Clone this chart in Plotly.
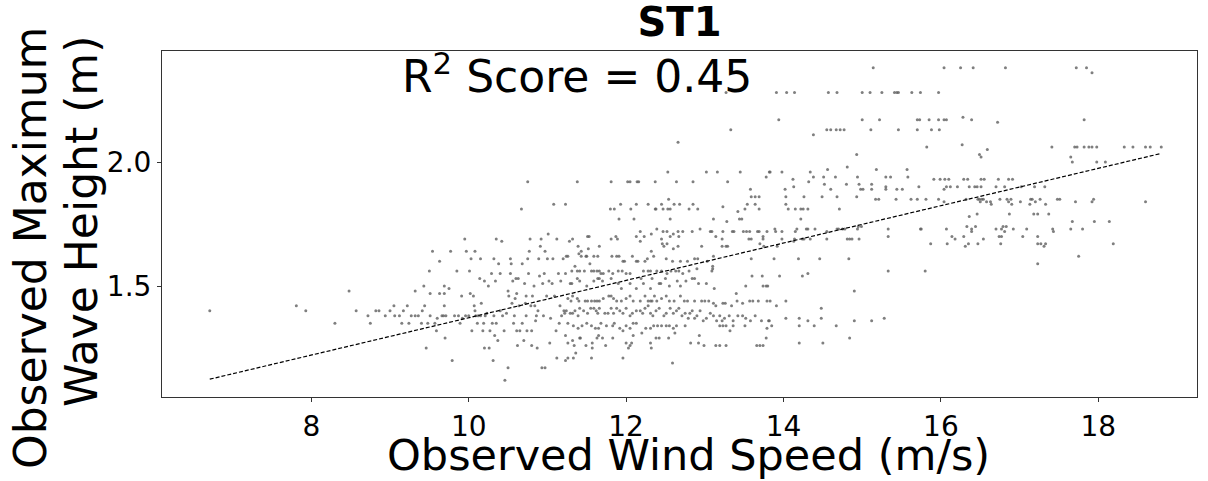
import plotly.graph_objects as go

obs_west = [
    (6.71, 1.40), (7.81, 1.42), (7.93, 1.40), (8.30, 1.35), (8.48, 1.48), (8.57, 1.40),
    (8.72, 1.38), (8.75, 1.35), (8.82, 1.40), (8.86, 1.40), (8.94, 1.38), (9.00, 1.40),
    (9.05, 1.42), (9.06, 1.38), (9.12, 1.38), (9.15, 1.35), (9.17, 1.40), (9.22, 1.42),
    (9.24, 1.35), (9.27, 1.38), (9.32, 1.38), (9.32, 1.48), (9.36, 1.38), (9.40, 1.35),
    (9.41, 1.40), (9.43, 1.50), (9.44, 1.42), (9.46, 1.25), (9.48, 1.35), (9.50, 1.56),
    (9.51, 1.38), (9.51, 1.47), (9.54, 1.64), (9.57, 1.35), (9.59, 1.32), (9.60, 1.37),
    (9.63, 1.60), (9.63, 1.47), (9.66, 1.38), (9.68, 1.38), (9.69, 1.50), (9.69, 1.47),
    (9.69, 1.42), (9.70, 1.29), (9.71, 1.38), (9.75, 1.49), (9.77, 1.64), (9.79, 1.20),
    (9.82, 1.38), (9.85, 1.56), (9.87, 1.38), (9.89, 1.35), (9.91, 1.46), (9.92, 1.37),
    (9.95, 1.69), (9.96, 1.38), (9.97, 1.64), (10.00, 1.38), (10.01, 1.56), (10.02, 1.47),
    (10.03, 1.61), (10.04, 1.32), (10.06, 1.46), (10.07, 1.42), (10.08, 1.64), (10.08, 1.40),
    (10.09, 1.38), (10.11, 1.35), (10.12, 1.38), (10.14, 1.53), (10.15, 1.38), (10.15, 1.61),
    (10.16, 1.43), (10.18, 1.32), (10.19, 1.35), (10.20, 1.25), (10.20, 1.52), (10.21, 1.38),
    (10.23, 1.39), (10.25, 1.50), (10.26, 1.25), (10.27, 1.32), (10.29, 1.55), (10.30, 1.35),
    (10.31, 1.20), (10.32, 1.61), (10.32, 1.38), (10.33, 1.30), (10.34, 1.52), (10.35, 1.69),
    (10.35, 1.35), (10.37, 1.28), (10.38, 1.59), (10.40, 1.40), (10.40, 1.55), (10.42, 1.68),
    (10.43, 1.38), (10.45, 1.32), (10.46, 1.12), (10.48, 1.39), (10.50, 1.48), (10.50, 1.17),
    (10.51, 1.46), (10.53, 1.55), (10.53, 1.61), (10.54, 1.59), (10.55, 1.43), (10.56, 1.52),
    (10.57, 1.35), (10.58, 1.38), (10.59, 1.45), (10.60, 1.53), (10.61, 1.32), (10.61, 1.47),
    (10.62, 1.26), (10.63, 1.53), (10.64, 1.42), (10.65, 1.32), (10.67, 1.81), (10.68, 1.59),
    (10.68, 1.35), (10.70, 1.28), (10.71, 1.51), (10.72, 1.43), (10.73, 1.46), (10.73, 1.38),
    (10.74, 1.32), (10.75, 1.92), (10.75, 1.61), (10.76, 1.55), (10.77, 1.64), (10.78, 1.69),
    (10.79, 1.42), (10.80, 1.26), (10.80, 1.32), (10.81, 1.46), (10.83, 1.50), (10.84, 1.42),
    (10.85, 1.36), (10.86, 1.38), (10.87, 1.25), (10.88, 1.40), (10.89, 1.61), (10.90, 1.54),
    (10.91, 1.66), (10.92, 1.69), (10.93, 1.17), (10.94, 1.51), (10.95, 1.38), (10.96, 1.55),
    (10.97, 1.64), (10.97, 1.17), (10.99, 1.46), (11.00, 1.61), (11.01, 1.71), (11.02, 1.52),
    (11.03, 1.27), (11.04, 1.37), (11.06, 1.51), (11.07, 1.61), (11.08, 1.83), (11.09, 1.46),
    (11.11, 1.32), (11.12, 1.69), (11.12, 1.21), (11.14, 1.55), (11.15, 1.35), (11.16, 1.42),
    (11.17, 1.52), (11.18, 1.38), (11.20, 1.61), (11.21, 1.40),
]

obs_mid_high = [
    (13.33, 2.13), (12.66, 2.08), (13.27, 2.28),
    (11.38, 1.92), (11.81, 1.92), (12.02, 1.92), (12.05, 1.92), (12.14, 1.92), (12.16, 1.92),
    (12.37, 1.92), (12.64, 1.92), (12.85, 1.92), (13.29, 1.92),
    (12.53, 1.96), (13.02, 1.96), (13.16, 1.96), (13.45, 1.96), (13.82, 1.96), (13.78, 1.94),
    (13.58, 1.89), (13.59, 1.86), (13.64, 1.86), (13.69, 1.86), (12.54, 1.85),
    (11.23, 1.83), (11.80, 1.81), (11.85, 1.81), (11.93, 1.83), (12.06, 1.81), (12.13, 1.83),
    (12.28, 1.83), (12.37, 1.81), (12.38, 1.81), (12.45, 1.83), (12.47, 1.81), (12.53, 1.81),
    (12.56, 1.81), (12.61, 1.83), (12.68, 1.83), (12.80, 1.81), (12.85, 1.83), (12.91, 1.81),
    (13.23, 1.82), (13.28, 1.76), (13.42, 1.80), (13.44, 1.77), (13.47, 1.77), (13.51, 1.81),
    (13.54, 1.83), (13.64, 1.83), (13.69, 1.81), (11.91, 1.77), (12.10, 1.77), (12.56, 1.77),
    (13.11, 1.77),
    (12.18, 1.72), (12.32, 1.71), (12.39, 1.73), (12.47, 1.72), (12.52, 1.72), (12.60, 1.71),
    (12.66, 1.72), (12.72, 1.72), (12.84, 1.72), (12.94, 1.73), (13.07, 1.72), (13.09, 1.72),
    (13.23, 1.72), (13.35, 1.72), (13.37, 1.72), (13.49, 1.72), (13.53, 1.72), (13.57, 1.72),
    (13.67, 1.72), (13.69, 1.72), (13.79, 1.72),
    (11.28, 1.68), (11.32, 1.69), (11.51, 1.70), (11.53, 1.70), (11.81, 1.69), (11.87, 1.70),
    (11.89, 1.69), (12.13, 1.70), (12.18, 1.68), (12.23, 1.70), (12.45, 1.69), (12.46, 1.67),
    (12.48, 1.66), (12.52, 1.67), (12.56, 1.70), (12.60, 1.65), (12.66, 1.66), (12.67, 1.70),
    (12.96, 1.66), (13.14, 1.70), (13.22, 1.69), (13.22, 1.66), (13.27, 1.66), (13.29, 1.66),
    (13.56, 1.69), (13.59, 1.69), (13.74, 1.69), (13.74, 1.70), (13.70, 1.67), (11.40, 1.63),
    (11.39, 1.66), (11.52, 1.65), (11.66, 1.66), (11.43, 1.64),
    (11.24, 1.62), (11.26, 1.62), (11.43, 1.62), (11.49, 1.62), (11.50, 1.62), (11.59, 1.62),
    (11.64, 1.62), (11.82, 1.62), (11.88, 1.62), (11.91, 1.62), (11.98, 1.60), (11.96, 1.60),
    (12.08, 1.62), (12.13, 1.60), (12.15, 1.60), (12.24, 1.60), (12.27, 1.61), (12.32, 1.64),
    (12.35, 1.62), (12.51, 1.61), (12.59, 1.60), (12.69, 1.60), (12.78, 1.60), (12.87, 1.61),
    (12.91, 1.61), (13.03, 1.60), (13.10, 1.58), (13.11, 1.62), (13.59, 1.61), (13.75, 1.66),
]

obs_mid_low = [
    (11.23, 1.55), (11.31, 1.56), (11.35, 1.58), (11.38, 1.56), (11.41, 1.56), (11.47, 1.56),
    (11.54, 1.59), (11.56, 1.56), (11.59, 1.56), (11.63, 1.56), (11.66, 1.56), (11.68, 1.55),
    (11.71, 1.55), (11.78, 1.56), (11.83, 1.55), (11.90, 1.56), (11.95, 1.56), (12.00, 1.55),
    (12.05, 1.55), (12.22, 1.56), (12.28, 1.56), (12.31, 1.56), (12.39, 1.56), (12.45, 1.56),
    (12.52, 1.55), (12.57, 1.56), (12.63, 1.56), (12.67, 1.56), (12.72, 1.55), (12.80, 1.56),
    (12.90, 1.57), (13.09, 1.56), (13.10, 1.57), (13.60, 1.54), (13.73, 1.54), (13.78, 1.50),
    (13.80, 1.50),
    (11.29, 1.51), (11.31, 1.51), (11.38, 1.53), (11.41, 1.52), (11.50, 1.50), (11.59, 1.52),
    (11.64, 1.53), (11.66, 1.53), (11.70, 1.52), (11.81, 1.53), (11.90, 1.51), (11.94, 1.49),
    (12.05, 1.51), (12.13, 1.49), (12.19, 1.53), (12.22, 1.51), (12.31, 1.49), (12.33, 1.53),
    (12.42, 1.51), (12.44, 1.51), (12.50, 1.53), (12.55, 1.50), (12.65, 1.52), (12.69, 1.50),
    (12.76, 1.52), (12.84, 1.53), (12.87, 1.53), (12.92, 1.51), (13.02, 1.51), (13.12, 1.49),
    (13.40, 1.47), (13.52, 1.50), (13.74, 1.50),
    (11.26, 1.45), (11.30, 1.44), (11.32, 1.46), (11.38, 1.45), (11.40, 1.44), (11.48, 1.44),
    (11.51, 1.44), (11.56, 1.44), (11.60, 1.44), (11.63, 1.44), (11.66, 1.44), (11.71, 1.45),
    (11.78, 1.46), (11.81, 1.46), (11.84, 1.45), (11.88, 1.44), (11.94, 1.44), (12.00, 1.45),
    (12.05, 1.46), (12.09, 1.44), (12.18, 1.44), (12.24, 1.46), (12.28, 1.44), (12.31, 1.44),
    (12.33, 1.44), (12.36, 1.46), (12.39, 1.44), (12.45, 1.45), (12.51, 1.46), (12.55, 1.44),
    (12.61, 1.44), (12.69, 1.46), (12.74, 1.44), (12.78, 1.44), (12.87, 1.44), (12.96, 1.44),
    (13.00, 1.44), (13.05, 1.44), (13.11, 1.43), (13.14, 1.42), (13.23, 1.43), (13.26, 1.43),
    (13.34, 1.42), (13.41, 1.44), (13.48, 1.43), (13.57, 1.44), (13.61, 1.44), (13.68, 1.44),
    (13.79, 1.44),
    (11.22, 1.39), (11.24, 1.40), (11.29, 1.39), (11.32, 1.39), (11.35, 1.40), (11.39, 1.38),
    (11.41, 1.41), (11.46, 1.40), (11.51, 1.39), (11.55, 1.41), (11.59, 1.41), (11.62, 1.40),
    (11.64, 1.39), (11.66, 1.41), (11.73, 1.39), (11.77, 1.39), (11.81, 1.41), (11.84, 1.39),
    (11.88, 1.41), (11.92, 1.40), (11.96, 1.39), (12.00, 1.41), (12.05, 1.38), (12.08, 1.39),
    (12.13, 1.40), (12.18, 1.40), (12.21, 1.39), (12.24, 1.41), (12.28, 1.42), (12.31, 1.39),
    (12.34, 1.38), (12.38, 1.40), (12.42, 1.41), (12.48, 1.38), (12.51, 1.39), (12.56, 1.41),
    (12.60, 1.39), (12.64, 1.40), (12.67, 1.41), (12.71, 1.38), (12.75, 1.39), (12.79, 1.37),
    (12.81, 1.39), (12.84, 1.40), (12.87, 1.37), (12.90, 1.38), (12.94, 1.40), (12.98, 1.36),
    (13.02, 1.37), (13.07, 1.39), (13.11, 1.38), (13.15, 1.36), (13.19, 1.38), (13.22, 1.36),
    (13.25, 1.37), (13.31, 1.38), (13.36, 1.36), (13.42, 1.38), (13.48, 1.38), (13.52, 1.37),
    (13.58, 1.36), (13.64, 1.38), (13.72, 1.36), (13.81, 1.36),
    (11.26, 1.35), (11.33, 1.34), (11.39, 1.33), (11.44, 1.34), (11.50, 1.35), (11.56, 1.34),
    (11.61, 1.33), (11.65, 1.33), (11.68, 1.35), (11.75, 1.34), (11.83, 1.34), (11.85, 1.35),
    (11.92, 1.33), (11.96, 1.32), (12.00, 1.34), (12.05, 1.33), (12.09, 1.35), (12.13, 1.35),
    (12.20, 1.31), (12.25, 1.33), (12.31, 1.33), (12.35, 1.34), (12.40, 1.34), (12.45, 1.34),
    (12.51, 1.34), (12.55, 1.34), (12.60, 1.33), (12.64, 1.34), (12.75, 1.34), (13.19, 1.34),
    (13.23, 1.34), (13.27, 1.34), (13.32, 1.32), (13.36, 1.34), (13.51, 1.34), (13.79, 1.33),
    (11.23, 1.30), (11.26, 1.27), (11.32, 1.28), (11.34, 1.26), (11.41, 1.29), (11.42, 1.29),
    (11.49, 1.26), (11.57, 1.27), (11.57, 1.25), (11.63, 1.29), (11.65, 1.30), (11.70, 1.29),
    (11.74, 1.26), (11.83, 1.29), (12.00, 1.27), (12.03, 1.25), (12.05, 1.26), (12.07, 1.27),
    (12.09, 1.30), (12.31, 1.27), (12.32, 1.25), (12.38, 1.29), (12.42, 1.29), (12.54, 1.29),
    (12.62, 1.31), (12.82, 1.27), (12.92, 1.27), (12.93, 1.30), (12.99, 1.26), (13.14, 1.26),
    (13.19, 1.26), (13.27, 1.26), (13.66, 1.26), (13.70, 1.26), (13.74, 1.26), (13.78, 1.29),
    (11.23, 1.20), (11.26, 1.21), (11.33, 1.21), (11.36, 1.23), (11.56, 1.21), (11.96, 1.21),
    (12.59, 1.19),
]

obs_east = [
    (15.14, 2.38), (16.04, 2.38), (16.25, 2.38), (16.41, 2.38),
    (13.91, 2.28), (14.04, 2.28), (14.14, 2.28), (14.57, 2.28), (14.68, 2.28), (15.00, 2.28),
    (15.10, 2.28), (15.25, 2.28), (15.41, 2.28), (15.44, 2.28), (15.46, 2.28), (15.63, 2.28),
    (15.74, 2.28), (15.97, 2.28),
    (13.94, 2.17), (15.00, 2.17), (15.22, 2.17), (15.70, 2.17), (15.73, 2.17), (15.85, 2.17),
    (15.97, 2.17), (16.04, 2.17), (16.07, 2.17), (16.28, 2.18), (16.39, 2.17),
    (14.55, 2.13), (14.60, 2.13), (14.67, 2.13), (14.72, 2.13), (14.77, 2.13), (15.11, 2.13),
    (15.46, 2.13), (15.70, 2.13), (15.88, 2.13), (15.98, 2.13),
    (14.38, 2.11), (15.82, 2.06), (16.27, 2.07), (14.93, 2.03), (16.49, 2.03),
    (13.83, 1.96), (13.98, 1.96), (14.34, 1.96), (14.56, 1.97), (14.81, 1.98), (15.18, 1.97),
    (15.57, 1.97),
    (14.38, 1.94), (14.51, 1.94), (14.66, 1.94), (14.94, 1.94), (15.30, 1.94), (15.36, 1.94),
    (15.58, 1.94),
    (14.12, 1.93), (14.32, 1.92), (15.91, 1.93), (15.99, 1.93), (16.05, 1.93), (16.10, 1.93),
    (16.29, 1.93), (16.34, 1.93),
    (14.13, 1.90), (14.52, 1.91), (14.60, 1.89), (14.80, 1.91), (14.96, 1.91), (14.98, 1.89),
    (15.01, 1.89), (15.12, 1.91), (15.12, 1.89), (15.30, 1.90), (15.30, 1.89), (15.44, 1.89),
    (15.51, 1.89), (15.72, 1.90), (16.04, 1.89), (16.07, 1.90), (16.12, 1.90), (16.21, 1.90),
    (16.36, 1.90), (16.43, 1.90), (16.46, 1.90),
    (14.02, 1.89), (14.03, 1.86), (14.26, 1.86), (14.49, 1.86), (14.68, 1.86), (14.93, 1.86),
    (15.17, 1.85), (15.21, 1.85), (15.43, 1.85), (15.62, 1.85), (15.70, 1.85), (15.81, 1.85),
    (15.97, 1.85), (16.04, 1.84), (16.32, 1.85), (16.47, 1.85),
    (14.03, 1.83), (14.06, 1.81), (14.15, 1.81), (14.22, 1.81), (14.25, 1.81), (14.31, 1.81),
    (14.71, 1.81), (14.22, 1.77), (16.36, 1.78), (16.46, 1.79),
    (13.89, 1.73), (13.90, 1.72), (13.98, 1.72), (14.15, 1.72), (14.17, 1.73), (14.29, 1.73),
    (14.31, 1.73), (14.40, 1.73), (14.55, 1.72), (14.68, 1.73), (14.70, 1.73), (14.75, 1.73),
    (14.78, 1.73), (14.94, 1.73), (14.95, 1.74), (14.99, 1.74), (15.33, 1.73), (15.33, 1.70),
    (15.74, 1.73), (15.75, 1.73), (16.07, 1.73), (16.33, 1.74), (16.39, 1.73), (16.44, 1.74),
    (16.39, 1.72),
    (13.92, 1.66), (13.98, 1.69), (14.13, 1.68), (14.14, 1.69), (14.24, 1.69), (14.26, 1.69),
    (14.34, 1.69), (14.55, 1.69), (14.81, 1.69), (14.84, 1.69), (14.87, 1.69), (14.96, 1.69),
    (15.87, 1.67), (16.08, 1.67), (16.14, 1.70), (16.18, 1.69), (16.29, 1.70), (16.31, 1.66),
    (16.35, 1.67), (16.47, 1.67),
    (13.88, 1.61), (14.19, 1.61), (14.46, 1.61), (14.83, 1.61), (15.33, 1.56), (15.80, 1.56),
    (13.95, 1.54), (14.24, 1.54), (14.31, 1.55), (14.90, 1.48),
    (13.83, 1.44), (14.03, 1.44), (13.91, 1.42),
    (13.82, 1.36), (13.85, 1.34), (14.03, 1.37), (14.20, 1.37), (14.20, 1.34), (14.31, 1.36),
    (14.39, 1.34), (14.48, 1.37), (14.48, 1.41), (14.67, 1.34), (14.90, 1.36), (15.12, 1.36),
    (15.28, 1.37), (14.20, 1.27), (14.50, 1.27), (14.84, 1.29),
]

obs_far = [
    (16.82, 2.38), (17.72, 2.38), (17.85, 2.38), (17.92, 2.36), (17.82, 2.17), (16.72, 2.16),
    (16.59, 2.05), (17.41, 2.06), (17.70, 2.06), (17.73, 2.06), (17.82, 2.06), (17.88, 2.06),
    (17.92, 2.06), (17.98, 2.06), (18.33, 2.06), (18.44, 2.06), (18.60, 2.06), (18.66, 2.06),
    (18.80, 2.06),
    (16.51, 2.02), (17.65, 2.02), (17.67, 2.00), (17.98, 2.00), (18.09, 2.00),
    (16.51, 1.93), (16.55, 1.93), (16.73, 1.93), (16.86, 1.93), (16.91, 1.93),
    (16.51, 1.90), (16.70, 1.90), (16.81, 1.90), (17.02, 1.90), (17.19, 1.90), (17.32, 1.90),
    (16.49, 1.85), (16.52, 1.85), (16.54, 1.85), (16.50, 1.84), (16.58, 1.84), (16.63, 1.84),
    (16.64, 1.83), (16.75, 1.85), (16.84, 1.85), (16.86, 1.84), (16.89, 1.85), (16.90, 1.83),
    (17.01, 1.84), (17.13, 1.83), (17.14, 1.85), (17.16, 1.85), (17.20, 1.84), (17.26, 1.85),
    (17.33, 1.83), (17.48, 1.85), (17.51, 1.85), (17.71, 1.84), (17.92, 1.84), (17.94, 1.85),
    (18.60, 1.84),
    (16.87, 1.79), (17.18, 1.79), (17.23, 1.79), (17.37, 1.79),
    (16.70, 1.73), (16.77, 1.73), (16.79, 1.74), (16.83, 1.74), (16.81, 1.72), (16.92, 1.73),
    (17.09, 1.73), (17.42, 1.73), (17.43, 1.72), (17.65, 1.73), (17.80, 1.73), (17.67, 1.76),
    (17.95, 1.76), (18.14, 1.76),
    (16.54, 1.69), (16.74, 1.70), (16.77, 1.70), (17.04, 1.70), (17.23, 1.70),
    (16.76, 1.67), (17.23, 1.67), (17.27, 1.67), (17.33, 1.67), (17.31, 1.66), (18.19, 1.67),
    (17.75, 1.62), (17.23, 1.59),
]

# Fitted regression line
fit_slope = 0.0753
fit_intercept = 0.619
r2_score = 0.45

x_ticks = [8, 10, 12, 14, 16, 18]
y_ticks = [1.5, 2.0]

all_obs = obs_west + obs_mid_high + obs_mid_low + obs_east + obs_far
wind = [p[0] for p in all_obs]
wave = [p[1] for p in all_obs]

line_x = [min(wind), max(wind)]
line_y = [fit_intercept + fit_slope * v for v in line_x]

FONT = "DejaVu Sans"

fig = go.Figure()
fig.add_trace(go.Scatter(
    x=wind, y=wave, mode="markers",
    marker=dict(size=3, color="rgba(95,95,95,0.8)", line=dict(width=0)),
    showlegend=False, hoverinfo="skip",
))
fig.add_trace(go.Scatter(
    x=line_x, y=line_y, mode="lines",
    line=dict(color="black", width=1.2, dash="4px,2px"),
    showlegend=False, hoverinfo="skip",
))

fig.update_layout(
    width=1208, height=481,
    margin=dict(l=162, r=11, t=51, b=84, pad=0),
    plot_bgcolor="white", paper_bgcolor="white",
    font=dict(family=FONT, color="black"),
    title=dict(text="<b>ST1</b>", x=0.5, xanchor="center", xref="paper",
               y=1 - 22 / 481, yanchor="middle", yref="container",
               font=dict(size=40, family=FONT, color="black")),
    xaxis=dict(range=[6.103, 19.254], tickvals=x_ticks, ticks="outside", ticklen=4,
               tickwidth=1, tickcolor="#333", showline=True, linecolor="#333",
               linewidth=1, mirror=True, showgrid=False, zeroline=False,
               tickfont=dict(size=28, family=FONT, color="black")),
    yaxis=dict(range=[1.0524, 2.4476], tickvals=y_ticks, tickformat=".1f",
               ticks="outside", ticklen=4, tickwidth=1, tickcolor="#333",
               showline=True, linecolor="#333", linewidth=1, mirror=True,
               showgrid=False, zeroline=False,
               tickfont=dict(size=28, family=FONT, color="black")),
)

fig.add_annotation(text="R<sup>2</sup> Score = %.2f" % r2_score, xref="paper", yref="paper",
                   x=(400 - 162) / 1035, y=(397 - 73) / 346, xanchor="left", yanchor="middle",
                   showarrow=False, font=dict(size=44, family=FONT, color="black"))
fig.add_annotation(text="Observed Wind Speed (m/s)", xref="paper", yref="paper",
                   x=(688 - 162) / 1035, y=(397 - 455) / 346, xanchor="center", yanchor="middle",
                   showarrow=False, font=dict(size=43, family=FONT, color="black"))
fig.add_annotation(text="Observed Maximum", xref="paper", yref="paper",
                   x=(30 - 162) / 1035, y=(397 - 248) / 346, xanchor="center", yanchor="middle",
                   textangle=-90, showarrow=False, font=dict(size=44, family=FONT, color="black"))
fig.add_annotation(text="Wave Height (m)", xref="paper", yref="paper",
                   x=(82 - 162) / 1035, y=(397 - 222) / 346, xanchor="center", yanchor="middle",
                   textangle=-90, showarrow=False, font=dict(size=44, family=FONT, color="black"))

fig.write_html("out.html")
